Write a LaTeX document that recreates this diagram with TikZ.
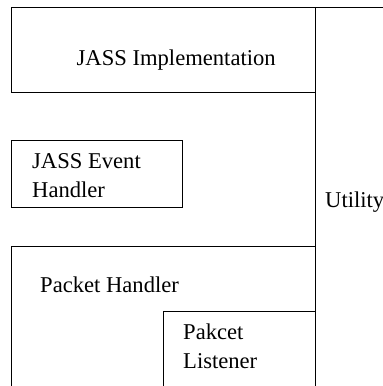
\documentclass[tikz,border=0pt]{standalone}
\usepackage{fontspec}
\setmainfont{Liberation Serif}
\begin{document}
\begin{tikzpicture}[x=1pt,y=1pt,
  box/.style={draw=black,line width=0.9pt,inner sep=0pt,outer sep=0pt,anchor=south west},
  lbl/.style={inner sep=0pt,anchor=base west,font=\fontsize{22.6}{29}\selectfont}]
\useasboundingbox (0,0) rectangle (383,386);
\clip (0,0) rectangle (383,386);
% boxes
\node[box,minimum width=303.5pt,minimum height=85.2pt] (impl) at (11.5,293.3) {};
\node[box,minimum width=170.8pt,minimum height=67pt] (event) at (11.5,179) {};
\node[box,minimum width=303.5pt,minimum height=160pt] (packet) at (11.5,-20) {};
\node[box,minimum width=151.7pt,minimum height=110pt] (listener) at (163.3,-35.7) {};
% utility divider
\coordinate (topright) at (383,378.5);
\coordinate (vbottom) at (315,-10);
\draw[line width=0.9pt] (impl.north east) -- (topright);
\draw[line width=0.9pt] (impl.north east) -- (vbottom);
% labels
\node[lbl] (t1) at (76.5,320) {JASS Implementation};
\node[lbl] (t2) at (32,217) {JASS Event};
\node[lbl] (t3) at (32,188) {Handler};
\node[lbl] (t4) at (40,93) {Packet Handler};
\node[lbl] (t5) at (183,46) {Pakcet};
\node[lbl] (t6) at (183,17) {Listener};
\node[lbl] (t7) at (325,178) {Utility};
\end{tikzpicture}
\end{document}
